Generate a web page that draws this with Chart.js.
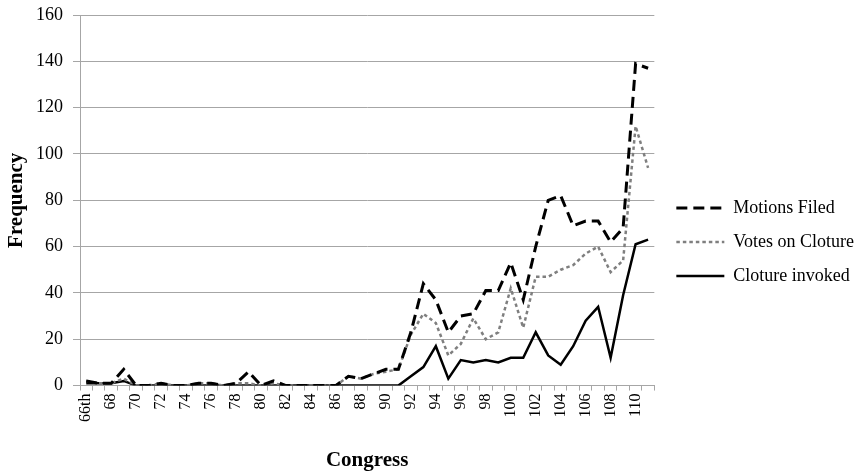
<!DOCTYPE html>
<html lang="en">
<head>
<meta charset="UTF-8">
<title>Cloture</title>
<script src="https://cdn.jsdelivr.net/npm/chart.js"></script>
<style>
  body { margin: 0; padding: 0; background: #fff; }
  #wrap { width: 858px; height: 471px; }
</style>
</head>
<body>
<div id="wrap"><canvas id="chart"></canvas></div>
<script>
// Congress 66th .. 111th
const congresses = ['66th', '67', '68', '69', '70', '71', '72', '73', '74', '75',
  '76', '77', '78', '79', '80', '81', '82', '83', '84', '85',
  '86', '87', '88', '89', '90', '91', '92', '93', '94', '95',
  '96', '97', '98', '99', '100', '101', '102', '103', '104', '105',
  '106', '107', '108', '109', '110', '111'];

const motionsFiled = [2, 1, 1, 7, 0, 0, 1, 0, 0, 1,
  1, 0, 1, 6, 0, 2, 0, 0, 0, 0,
  0, 4, 3, 5, 7, 7, 23, 44, 37, 23,
  30, 31, 41, 41, 53, 37, 60, 80, 82, 69,
  71, 71, 62, 68, 139, 137];

const votesOnCloture = [2, 1, 1, 3, 0, 0, 1, 0, 0, 1,
  1, 0, 1, 1, 0, 1, 0, 0, 0, 0,
  0, 4, 3, 5, 6, 7, 22, 31, 27, 13,
  18, 29, 20, 23, 42, 25, 47, 47, 50, 52,
  57, 60, 49, 54, 112, 94];

const clotureInvoked = [1, 1, 1, 2, 0, 0, 0, 0, 0, 0,
  0, 0, 0, 0, 0, 0, 0, 0, 0, 0,
  0, 0, 0, 0, 0, 0, 4, 8, 17, 3,
  11, 10, 11, 10, 12, 12, 23, 13, 9, 17,
  28, 34, 12, 39, 61, 63];

const yTicks = [0, 20, 40, 60, 80, 100, 120, 140, 160];

const serif = "'Liberation Serif', 'Times New Roman', serif";
const gridGray = '#a6a6a6';

// nudge the legend a little to the right, like the original
const legendNudge = {
  id: 'legendNudge',
  afterLayout(chart) {
    chart.legend.left += 6;
    chart.legend.right += 6;
  }
};

new Chart(document.getElementById('chart'), {
  type: 'line',
  data: {
    labels: congresses,
    datasets: [
      {
        label: 'Motions Filed',
        data: motionsFiled,
        borderColor: '#000',
        borderWidth: 3,
        borderDash: [11, 6],
        pointRadius: 0,
        fill: false
      },
      {
        label: 'Votes on Cloture',
        data: votesOnCloture,
        borderColor: '#7f7f7f',
        borderWidth: 2.5,
        borderDash: [3.5, 3],
        pointRadius: 0,
        fill: false
      },
      {
        label: 'Cloture invoked',
        data: clotureInvoked,
        borderColor: '#000',
        borderWidth: 2.5,
        pointRadius: 0,
        fill: false
      }
    ]
  },
  plugins: [legendNudge],
  options: {
    responsive: true,
    maintainAspectRatio: false,
    animation: false,
    layout: { padding: { left: 4, top: 2, right: 0, bottom: 0 } },
    scales: {
      x: {
        offset: true,
        grid: { drawOnChartArea: false, offset: true, tickLength: 5, color: gridGray },
        border: { color: gridGray },
        ticks: {
          autoSkip: false,
          maxRotation: 90,
          minRotation: 90,
          padding: 3,
          color: '#000',
          font: { family: serif, size: 16 },
          callback: (v, i) => (i % 2 === 0 ? congresses[i] : '')
        },
        title: {
          display: true,
          text: 'Congress',
          color: '#000',
          font: { family: serif, size: 21, weight: 'bold', lineHeight: 1 },
          padding: { top: 25, bottom: 0 }
        }
      },
      y: {
        min: 0,
        max: 160,
        afterBuildTicks: (axis) => { axis.ticks = yTicks.map(v => ({ value: v })); },
        afterFit: (axis) => {
          axis.width = 76;
          axis.paddingTop = 15;
          axis.paddingBottom = 0;
        },
        grid: { color: gridGray, tickLength: 7 },
        border: { color: gridGray },
        ticks: {
          padding: 10,
          color: '#000',
          font: { family: serif, size: 18 }
        },
        title: {
          display: true,
          text: 'Frequency',
          color: '#000',
          font: { family: serif, size: 21, weight: 'bold' },
          padding: { top: 0, bottom: 4 }
        }
      }
    },
    plugins: {
      legend: {
        position: 'right',
        title: { display: true, text: ' ', font: { size: 6 }, padding: 2 },
        labels: {
          usePointStyle: true,
          pointStyle: 'line',
          pointStyleWidth: 48,
          color: '#000',
          padding: 16,
          font: { family: serif, size: 18 },
          generateLabels: (chart) => {
            const items = Chart.defaults.plugins.legend.labels.generateLabels(chart);
            items.forEach((it) => {
              const ds = chart.data.datasets[it.datasetIndex];
              it.lineDash = ds.borderDash || [];
              it.lineWidth = ds.borderWidth;
              it.strokeStyle = ds.borderColor;
            });
            return items;
          }
        }
      },
      tooltip: { enabled: false }
    }
  }
});
</script>
</body>
</html>
